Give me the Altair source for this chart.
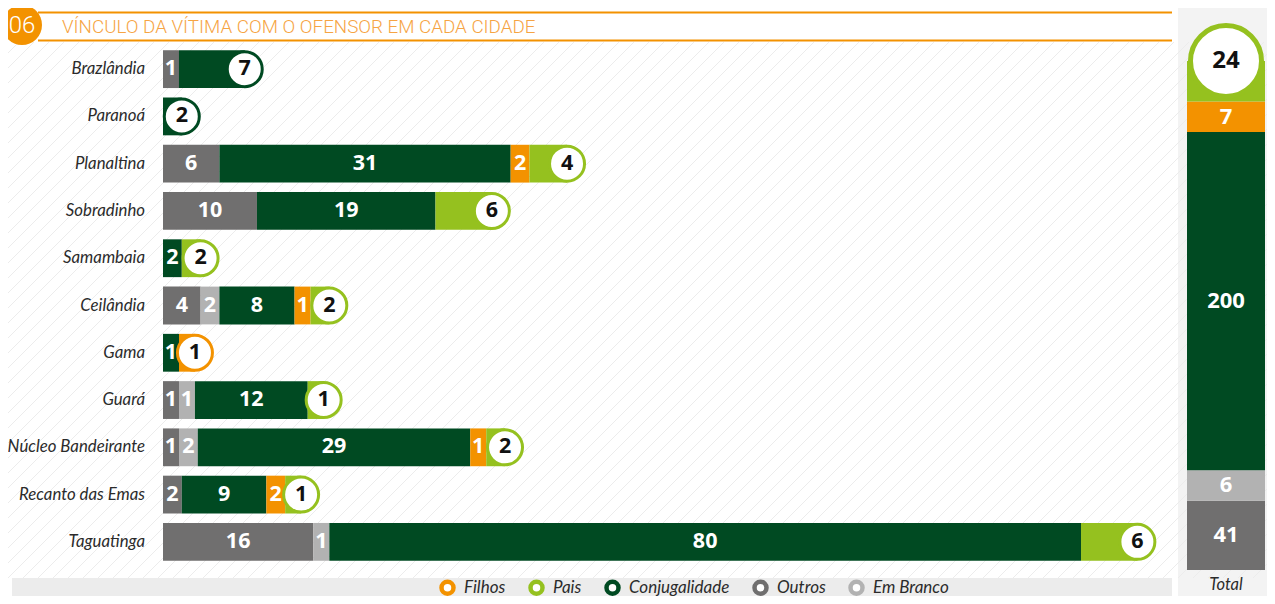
import altair as alt
import pandas as pd

# ---------------- data ----------------
cities = ["Brazlândia", "Paranoá", "Planaltina", "Sobradinho", "Samambaia", "Ceilândia",
          "Gama", "Guará", "Núcleo Bandeirante", "Recanto das Emas", "Taguatinga"]
outros = [1, 0, 6, 10, 0, 4, 0, 1, 1, 2, 16]
em_branco = [0, 0, 0, 0, 0, 2, 0, 1, 2, 0, 1]
conjugalidade = [7, 2, 31, 19, 2, 8, 1, 12, 29, 9, 80]
filhos = [0, 0, 2, 0, 0, 1, 1, 0, 1, 2, 0]
pais = [0, 0, 4, 6, 2, 2, 0, 1, 2, 1, 6]

stack_order = ["Outros", "Em Branco", "Conjugalidade", "Filhos", "Pais"]
total_values = [41, 6, 200, 7, 24]

legend_order = ["Filhos", "Pais", "Conjugalidade", "Outros", "Em Branco"]
legend_colors = ["#F39200", "#95C11F", "#004A22", "#706F6F", "#B2B2B2"]

title_text = "VÍNCULO DA VÍTIMA COM O OFENSOR EM CADA CIDADE"
chart_number = "06"

# ---------------- tables ----------------
series = {"Outros": outros, "Em Branco": em_branco, "Conjugalidade": conjugalidade,
          "Filhos": filhos, "Pais": pais}
rows = []
for i, c in enumerate(cities):
    segs = [(k, series[k][i]) for k in stack_order if series[k][i] > 0]
    acc = 0.0
    for j, (k, v) in enumerate(segs):
        w = max(v, 1.7)  # minimum visible width, as in the original design
        rows.append(dict(city=c, category=k, value=v, start=acc, end=acc + w,
                         mid=acc + w / 2, is_last=(j == len(segs) - 1)))
        acc += w
df = pd.DataFrame(rows)

trows = []
acc = 0.0
for j, (k, v) in enumerate(zip(stack_order, total_values)):
    w = max(v, 18)
    trows.append(dict(col="Total", category=k, value=v, start=acc, end=acc + w,
                      mid=acc + w / 2, is_last=(j == len(stack_order) - 1)))
    acc += w
tdf = pd.DataFrame(trows)
city_df = pd.DataFrame({"city": cities})
legend_df = pd.DataFrame({"tipo": legend_order})
one = pd.DataFrame({"a": [0]})

# ---------------- scales ----------------
xs = alt.Scale(domain=[0, 106], range=[155, 1151])
ys = alt.Scale(domain=cities, range=[37.5, 557.5], paddingInner=0.2, paddingOuter=0.1)
cs = alt.Scale(domain=legend_order, range=legend_colors)
tx = alt.Scale(domain=["Total"], range=[1179, 1257], paddingInner=0, paddingOuter=0)
ty = alt.Scale(domain=[0, float(tdf["end"].max())], range=[562, 53])

NUMFONT = "Open Sans"
LABFONT = "Lato"
ORANGE = "#F39200"

# ---------------- decoration ----------------
panel = alt.Chart(one).mark_rect(color="#F3F3F3").encode(
    x=alt.value(1170), x2=alt.value(1259), y=alt.value(0), y2=alt.value(588))
legbar = alt.Chart(one).mark_rect(color="#ECECEC").encode(
    x=alt.value(4), x2=alt.value(1164), y=alt.value(570), y2=alt.value(588))
stripes = alt.Chart(alt.sequence(-600, 1300, 15, as_="s")).transform_calculate(
    xa="datum.s", xb="datum.s + 536", ya="570", yb="34"
).mark_rule(color="#ECECEC", strokeWidth=1).encode(
    x=alt.X("xa:Q", scale=None), x2="xb:Q", y=alt.Y("ya:Q", scale=None), y2="yb:Q")
line1 = alt.Chart(one).mark_rule(color=ORANGE, strokeWidth=2).encode(
    x=alt.value(30), x2=alt.value(1164), y=alt.value(4.5))
line2 = alt.Chart(one).mark_rule(color=ORANGE, strokeWidth=2).encode(
    x=alt.value(30), x2=alt.value(1164), y=alt.value(32.5))
hcircle = alt.Chart(one).mark_point(filled=True, color=ORANGE, size=1600, opacity=1).encode(
    x=alt.value(14), y=alt.value(17))
htext = alt.Chart(pd.DataFrame({"t": [chart_number]})).mark_text(
    color="white", font="Roboto", fontWeight=300, fontSize=24).encode(
    x=alt.value(14), y=alt.value(18), text="t:N")
title = alt.Chart(pd.DataFrame({"t": [title_text]})).mark_text(
    color="#F6A443", font="Roboto", fontWeight=300, fontSize=18.8, align="left",
    baseline="middle").encode(x=alt.value(54), y=alt.value(18.5), text="t:N")

# ---------------- main bars ----------------
bars = alt.Chart(df).mark_bar().encode(
    x=alt.X("start:Q", scale=xs, axis=None), x2="end:Q",
    y=alt.Y("city:N", scale=ys, axis=None),
    color=alt.Color("category:N", scale=cs, legend=None))
seglabels = alt.Chart(df).transform_filter("!datum.is_last").mark_text(
    color="white", font=NUMFONT, fontWeight="bold", fontSize=21.5).encode(
    x=alt.X("mid:Q", scale=xs, axis=None), y=alt.Y("city:N", scale=ys, axis=None),
    text="value:Q")
endcircles = alt.Chart(df).transform_filter("datum.is_last").mark_point(
    filled=True, fill="white", strokeWidth=3, size=1225, opacity=1).encode(
    x=alt.X("end:Q", scale=xs, axis=None), y=alt.Y("city:N", scale=ys, axis=None),
    stroke=alt.Stroke("category:N", scale=cs, legend=None))
endlabels = alt.Chart(df).transform_filter("datum.is_last").mark_text(
    color="#111111", font=NUMFONT, fontWeight="bold", fontSize=21.5).encode(
    x=alt.X("end:Q", scale=xs, axis=None), y=alt.Y("city:N", scale=ys, axis=None),
    text="value:Q")
citylabels = alt.Chart(city_df).mark_text(
    align="right", font=LABFONT, fontStyle="italic", fontSize=16.8, color="#2B2B2B").encode(
    x=alt.value(137), y=alt.Y("city:N", scale=ys, axis=None), text="city:N")
main = alt.layer(bars, seglabels, endcircles, endlabels, citylabels)

# legend (ring symbols), built from the category list; its own points sit off-canvas
legend_layer = alt.Chart(legend_df).mark_point(
    filled=True, fill="white", strokeWidth=4, size=144, opacity=1).encode(
    x=alt.value(-100), y=alt.value(-100),
    stroke=alt.Stroke("tipo:N", scale=alt.Scale(domain=legend_order, range=legend_colors),
                      legend=alt.Legend(
        title=None, orient="none", legendX=431, legendY=571, direction="horizontal",
        symbolType="circle", symbolSize=144, symbolStrokeWidth=4.5, symbolFillColor="white",
        symbolOpacity=1, labelFont=LABFONT, labelFontStyle="italic", labelFontSize=17,
        labelColor="#2B2B2B", columnPadding=15, labelOffset=8, zindex=2)))

# ---------------- total column ----------------
tbars = alt.Chart(tdf).mark_bar().encode(
    x=alt.X("col:N", scale=tx, axis=None),
    y=alt.Y("start:Q", scale=ty, axis=None), y2="end:Q",
    color=alt.Color("category:N", scale=cs, legend=None))
tlabels = alt.Chart(tdf).transform_filter("!datum.is_last").mark_text(
    color="white", font=NUMFONT, fontWeight="bold", fontSize=22).encode(
    x=alt.X("col:N", scale=tx, axis=None), y=alt.Y("mid:Q", scale=ty, axis=None),
    text="value:Q")
tcircle = alt.Chart(tdf).transform_filter("datum.is_last").mark_point(
    filled=True, fill="white", stroke="#95C11F", strokeWidth=5, size=5041, opacity=1).encode(
    x=alt.X("col:N", scale=tx, axis=None), y=alt.Y("end:Q", scale=ty, axis=None))
tlabel = alt.Chart(tdf).transform_filter("datum.is_last").mark_text(
    color="#111111", font=NUMFONT, fontWeight="bold", fontSize=24).encode(
    x=alt.X("col:N", scale=tx, axis=None), y=alt.Y("end:Q", scale=ty, axis=None),
    text="value:Q")
ttitle = alt.Chart(pd.DataFrame({"col": ["Total"]})).mark_text(
    font=LABFONT, fontStyle="italic", fontSize=16.5, color="#2B2B2B").encode(
    x=alt.X("col:N", scale=tx, axis=None), y=alt.value(577), text="col:N")
total = alt.layer(tbars, tlabels, tcircle, tlabel, ttitle)

chart = alt.layer(
    panel, legbar, stripes, line1, line2, hcircle, htext, title, main, total, legend_layer
).resolve_scale(x="independent", y="independent", stroke="independent").properties(
    width=1259, height=588, padding=0,
    autosize=alt.AutoSizeParams(type="none"),
    background="white",
).configure_view(stroke=None)

chart.save("out.html", embed_options={"renderer": "svg", "actions": False})
